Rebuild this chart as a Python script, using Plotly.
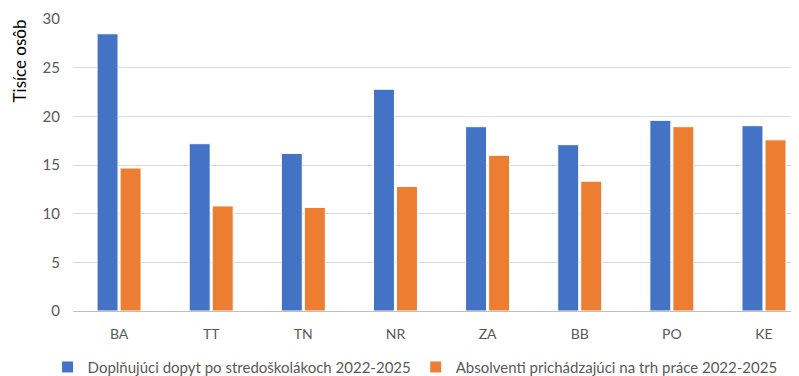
import plotly.graph_objects as go

regions = ["BA", "TT", "TN", "NR", "ZA", "BB", "PO", "KE"]
demand = [28.5, 17.2, 16.2, 22.8, 18.95, 17.1, 19.6, 19.05]
graduates = [14.7, 10.8, 10.65, 12.8, 16.0, 13.35, 18.95, 17.6]

font = "Lato, Open Sans, sans-serif"
grey = "#595959"

fig = go.Figure()
fig.add_trace(go.Bar(x=regions, y=demand, name="Doplňujúci dopyt po stredoškolákoch 2022-2025",
                     marker=dict(color="#4472C4", line=dict(color="white", width=1))))
fig.add_trace(go.Bar(x=regions, y=graduates, name="Absolventi prichádzajúci na trh práce 2022-2025",
                     marker=dict(color="#ED7D31", line=dict(color="white", width=1))))

# page body has an 8px margin, so the figure is a bit smaller than the window
fig.update_layout(
    width=791, height=368,
    margin=dict(l=65, r=0, t=11, b=65, autoexpand=False),
    plot_bgcolor="white", paper_bgcolor="white",
    barmode="group", bargap=0.5, bargroupgap=0.09,
    font=dict(family=font, size=14, color=grey),
    legend=dict(orientation="h", x=-0.035, xanchor="left", y=-0.136, yanchor="top",
                font=dict(size=15, color=grey), itemwidth=30, traceorder="normal"),
    showlegend=True,
)
# axis title sits at the top of the axis, like in the original
fig.add_annotation(text="Tisíce osôb", textangle=-90, showarrow=False,
                   xref="paper", yref="paper", x=-0.0744, xanchor="center",
                   y=1.007, yanchor="top", font=dict(size=17, color="#000000"))
fig.update_yaxes(range=[0, 30.02], dtick=5, showgrid=True, gridcolor="#D9D9D9", gridwidth=1,
                 zeroline=True, zerolinecolor="#BFBFBF", zerolinewidth=1,
                 tickfont=dict(size=15, color=grey), ticks="", ticklabelstandoff=12,
                 ticklabeloverflow="allow")
fig.update_xaxes(range=[-0.5, 7.38], showline=False, ticks="", ticklabelstandoff=13,
                 tickfont=dict(size=14, color=grey))

fig.write_html("out.html")
